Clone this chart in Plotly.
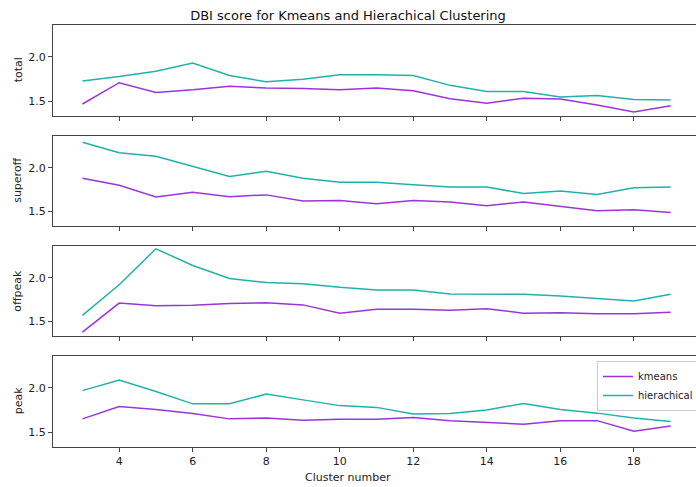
import plotly.graph_objects as go

clusters = list(range(3, 20))
panels = ["total", "superoff", "offpeak", "peak"]

kmeans_total = [1.47, 1.71, 1.60, 1.63, 1.67, 1.65, 1.645, 1.63, 1.65, 1.62, 1.53, 1.48, 1.535, 1.525, 1.46, 1.38, 1.45]
hier_total = [1.73, 1.78, 1.84, 1.93, 1.79, 1.72, 1.75, 1.80, 1.80, 1.79, 1.68, 1.61, 1.61, 1.55, 1.565, 1.52, 1.515]

kmeans_superoff = [1.88, 1.80, 1.665, 1.72, 1.67, 1.69, 1.62, 1.625, 1.59, 1.625, 1.61, 1.565, 1.61, 1.56, 1.51, 1.52, 1.49]
hier_superoff = [2.29, 2.17, 2.13, 2.015, 1.90, 1.96, 1.88, 1.835, 1.835, 1.805, 1.78, 1.78, 1.705, 1.735, 1.695, 1.77, 1.78]

kmeans_offpeak = [1.38, 1.71, 1.68, 1.685, 1.705, 1.715, 1.69, 1.595, 1.64, 1.64, 1.63, 1.645, 1.595, 1.60, 1.59, 1.59, 1.605]
hier_offpeak = [1.57, 1.92, 2.33, 2.14, 1.99, 1.945, 1.93, 1.89, 1.86, 1.86, 1.815, 1.81, 1.81, 1.79, 1.76, 1.735, 1.81]

kmeans_peak = [1.65, 1.79, 1.755, 1.71, 1.65, 1.66, 1.635, 1.645, 1.645, 1.665, 1.63, 1.61, 1.59, 1.63, 1.63, 1.51, 1.57]
hier_peak = [1.97, 2.09, 1.96, 1.82, 1.82, 1.93, 1.865, 1.80, 1.78, 1.705, 1.71, 1.75, 1.825, 1.755, 1.715, 1.66, 1.62]

kmeans_series = [kmeans_total, kmeans_superoff, kmeans_offpeak, kmeans_peak]
hier_series = [hier_total, hier_superoff, hier_offpeak, hier_peak]

KM_COLOR = "#9b35d9"
HC_COLOR = "#20b2aa"
H = 487
W = 696
# panel pixel extents (top, bottom)
px = [(24.5, 116), (135.7, 226), (245.7, 336), (355.7, 446.7)]

fig = go.Figure()
layout = {}
for i, name in enumerate(panels):
    n = "" if i == 0 else str(i + 1)
    xa = "x" + n
    ya = "y" + n
    fig.add_trace(go.Scatter(x=clusters, y=kmeans_series[i], mode="lines", name="kmeans",
                             line=dict(color=KM_COLOR, width=1.5), xaxis=xa, yaxis=ya,
                             showlegend=(i == 3)))
    fig.add_trace(go.Scatter(x=clusters, y=hier_series[i], mode="lines", name="hierachical",
                             line=dict(color=HC_COLOR, width=1.5), xaxis=xa, yaxis=ya,
                             showlegend=(i == 3)))
    top, bot = px[i]
    layout["xaxis" + n] = dict(
        domain=[0, 1], anchor=ya, range=[2.2, 19.69], tickvals=[4, 6, 8, 10, 12, 14, 16, 18],
        showticklabels=(i == 3), ticks="outside", ticklen=4, tickcolor="#444",
        showline=True, linecolor="#444", linewidth=1, mirror=True, showgrid=False,
        zeroline=False, tickfont=dict(size=11, color="#222"),
        matches=None if i == 0 else "x",
    )
    layout["yaxis" + n] = dict(
        domain=[1 - bot / H, 1 - top / H], anchor=xa, range=[1.335, 2.365],
        tickvals=[1.5, 2.0], tickformat=".1f", ticks="outside", ticklen=4, tickcolor="#444",
        showline=True, linecolor="#444", linewidth=1, mirror=False, showgrid=False,
        zeroline=False, tickfont=dict(size=11, color="#222"),
    )

annotations = []
for i, name in enumerate(panels):
    top, bot = px[i]
    annotations.append(dict(text=name, xref="paper", yref="paper", x=(18 - 53) / (W - 53),
                            y=1 - (top + bot) / 2 / H, textangle=-90, showarrow=False,
                            xanchor="center", yanchor="middle",
                            font=dict(size=11, color="#222")))
annotations.append(dict(text="Cluster number", xref="paper", yref="paper",
                        x=(348 - 53) / (W - 53), y=1 - 477 / H, showarrow=False,
                        xanchor="center", yanchor="middle", font=dict(size=11, color="#222")))

fig.update_layout(
    **layout,
    annotations=annotations,
    width=W, height=H,
    margin=dict(l=53, r=0, t=0, b=0, autoexpand=False),
    plot_bgcolor="white", paper_bgcolor="white",
    font=dict(family="DejaVu Sans", size=11, color="#222"),
    title=dict(text="DBI score for Kmeans and Hierachical Clustering", x=348 / W, xanchor="center",
               y=1 - 15 / H, yanchor="middle", yref="container", font=dict(size=13, color="#111")),
    legend=dict(xref="container", yref="container", x=597 / W, y=1 - 361 / H,
                xanchor="left", yanchor="top", itemwidth=30,
                bgcolor="rgba(255,255,255,0.9)", bordercolor="#ccc", borderwidth=1,
                font=dict(size=10, color="#222"), tracegroupgap=0),
    showlegend=True,
)

fig.write_html("out.html", config={"displayModeBar": False},
               post_script="document.body.style.margin='0';document.body.style.overflow='hidden';")
